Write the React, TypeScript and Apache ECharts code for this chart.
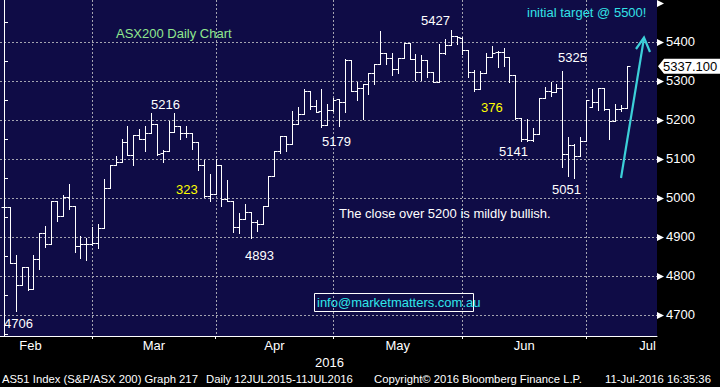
import React, { useEffect, useRef } from 'react';
import * as echarts from 'echarts';

const MONTH_LABELS = ['Feb', 'Mar', 'Apr', 'May', 'Jun', 'Jul'];
const BARS_PER_MONTH = [16, 21, 20, 22, 21, 7];

const OPEN = [
  4977, 4977, 4832, 4776, 4823, 4766, 4843, 4910, 4882, 4993, 4954, 5003, 4979, 4877, 4882, 4882,
  4884, 4923, 5024, 5083, 5091, 5144, 5109, 5160, 5151, 5167, 5188, 5115, 5120, 5170, 5185, 5167, 5167, 5144, 5085, 5006, 5010,
  5085, 4996, 4993, 4926, 4946, 4963, 4939, 4933, 4978, 5057, 5120, 5159, 5138, 5190, 5215, 5275, 5235, 5222, 5187, 5226,
  5254, 5245, 5354, 5273, 5281, 5292, 5320, 5344, 5372, 5359, 5331, 5359, 5397, 5355, 5322, 5352, 5322, 5298, 5372, 5391, 5414, 5409,
  5379, 5322, 5279, 5320, 5362, 5374, 5374, 5362, 5314, 5205, 5151, 5147, 5164, 5256, 5275, 5271, 5281, 5113, 5136, 5106, 5145,
  5234, 5245, 5282, 5228, 5197, 5228, 5231,
];
const HIGH = [
  4982, 4977, 4853, 4823, 4823, 4853, 4910, 4929, 4993, 4993, 5008, 5036, 4979, 4902, 4897, 4926,
  4933, 5049, 5083, 5106, 5151, 5183, 5160, 5177, 5183, 5217, 5188, 5123, 5197, 5218, 5185, 5183, 5167, 5144, 5098, 5060, 5100,
  5085, 5047, 4993, 4961, 4984, 4963, 4944, 4978, 5057, 5120, 5159, 5159, 5222, 5234, 5279, 5275, 5250, 5279, 5241, 5256,
  5254, 5356, 5354, 5296, 5292, 5320, 5344, 5427, 5372, 5372, 5359, 5397, 5397, 5369, 5367, 5352, 5322, 5395, 5408, 5429, 5416, 5412,
  5379, 5328, 5326, 5371, 5389, 5376, 5385, 5362, 5314, 5205, 5202, 5179, 5256, 5283, 5297, 5291, 5326, 5157, 5138, 5157, 5250,
  5280, 5282, 5282, 5228, 5241, 5237, 5339,
];
const LOW = [
  4927, 4832, 4709, 4776, 4764, 4766, 4817, 4873, 4882, 4941, 4954, 4972, 4862, 4847, 4840, 4880,
  4871, 4923, 5024, 5083, 5091, 5109, 5085, 5151, 5120, 5167, 5111, 5091, 5120, 5170, 5151, 5157, 5126, 5072, 5002, 4993, 5010,
  4979, 4993, 4912, 4909, 4946, 4896, 4914, 4933, 4978, 5057, 5115, 5119, 5138, 5190, 5215, 5228, 5221, 5181, 5187, 5222,
  5185, 5221, 5273, 5252, 5201, 5267, 5292, 5344, 5344, 5314, 5320, 5359, 5355, 5302, 5302, 5309, 5298, 5298, 5368, 5391, 5395, 5369,
  5309, 5274, 5279, 5320, 5362, 5336, 5338, 5296, 5202, 5146, 5146, 5145, 5164, 5256, 5261, 5271, 5079, 5055, 5051, 5106, 5145,
  5234, 5226, 5225, 5151, 5197, 5222, 5231,
];
const CLOSE = [
  4977, 4832, 4776, 4823, 4766, 4843, 4910, 4882, 4993, 4954, 5003, 4979, 4877, 4882, 4882, 4884,
  4923, 5024, 5083, 5091, 5144, 5109, 5160, 5151, 5167, 5188, 5113, 5121, 5170, 5185, 5167, 5167, 5144, 5085, 5006, 5010, 5085,
  4996, 4993, 4926, 4946, 4963, 4939, 4933, 4978, 5057, 5120, 5159, 5138, 5190, 5215, 5275, 5235, 5221, 5187, 5226, 5250,
  5245, 5354, 5273, 5281, 5292, 5320, 5344, 5372, 5359, 5331, 5359, 5397, 5355, 5322, 5352, 5322, 5298, 5372, 5391, 5414, 5412, 5379,
  5322, 5279, 5320, 5362, 5372, 5374, 5362, 5314, 5205, 5151, 5147, 5164, 5256, 5275, 5271, 5281, 5113, 5136, 5106, 5145, 5250,
  5245, 5282, 5228, 5197, 5228, 5231, 5337,
];

const Y_LABELS = [4700, 4800, 4900, 5000, 5100, 5200, 5300, 5400];
const Y_MAJOR_MARKS = [4700, 4800, 4900, 5000, 5100, 5200, 5300, 5400, 5500];
const Y_MINOR = [4650, 4750, 4850, 4950, 5050, 5150, 5250, 5350, 5450];
const LAST_PRICE = 5337.1;

const FONT = '"Liberation Sans", Arial, sans-serif';
const X_MIN = -0.68;
const X_MAX = 111.1;
const Y_MIN = 4646;
const Y_MAX = 5507;

export default function App() {
  const ref = useRef<HTMLDivElement>(null);

  useEffect(() => {
    if (!ref.current) return;
    const chart = echarts.init(ref.current, undefined, { renderer: 'svg', width: 720, height: 387 });

    const monthEnds: number[] = [];
    let acc = 0;
    BARS_PER_MONTH.forEach((n) => {
      acc += n;
      monthEnds.push(acc - 1);
    });
    const boundaries = monthEnds.slice(0, monthEnds.length - 1);
    const centers = MONTH_LABELS.map((_, i) => {
      const start = i === 0 ? monthEnds[0] - 21 : monthEnds[i - 1];
      const end = i === MONTH_LABELS.length - 1 ? monthEnds[i - 1] + 21 : monthEnds[i];
      return (start + end) / 2;
    });

    const data = OPEN.map((o, i) => [i, o, HIGH[i], LOW[i], CLOSE[i]]);

    const textEl = (text: string, x: number, y: number, fill: string, size = 13, align = 'left') => ({
      type: 'text',
      x,
      y,
      z: 50,
      silent: true,
      style: {
        text,
        fill,
        font: `${size}px ${FONT}`,
        textAlign: align,
        textVerticalAlign: 'middle',
      },
    });

    const annotations: any[] = [
      textEl('ASX200 Daily Chart', 116, 33, '#8fe88f'),
      textEl('5216', 151, 104, '#ffffff'),
      textEl('5179', 322, 141, '#ffffff'),
      textEl('323', 176, 189, '#ffff00'),
      textEl('4893', 245, 255, '#ffffff'),
      textEl('4706', 4, 323, '#ffffff'),
      textEl('5427', 421, 20, '#ffffff'),
      textEl('376', 481, 107, '#ffff00'),
      textEl('5141', 499, 151, '#ffffff'),
      textEl('5325', 558, 57, '#ffffff'),
      textEl('5051', 552, 189, '#ffffff'),
      textEl('initial target @ 5500!', 527, 12, '#33e2e6'),
      textEl('The close over 5200 is mildly bullish.', 339, 213, '#ffffff'),
      {
        type: 'rect',
        z: 49,
        silent: true,
        shape: { x: 314.5, y: 293.5, width: 159, height: 18 },
        style: { fill: 'none', stroke: '#ffffff', lineWidth: 1 },
      },
      textEl('info@marketmatters.com.au', 317, 302.5, '#2fe6ea'),
      textEl('2016', 315, 362, '#ffffff'),
      textEl('AS51 Index (S&P/ASX 200) Graph 217', 2, 379, '#ffffff', 11.3),
      textEl('Daily 12JUL2015-11JUL2016', 206, 379, '#ffffff', 11.3),
      textEl('Copyright\u00A9 2016 Bloomberg Finance L.P.', 374, 379, '#ffffff', 11.3),
      textEl('11-Jul-2016 16:35:36', 605, 379, '#ffffff', 11.3),
      {
        type: 'line',
        z: 50,
        silent: true,
        shape: { x1: 621, y1: 178, x2: 644, y2: 38 },
        style: { stroke: '#3ccfd8', lineWidth: 2.2 },
      },
      {
        type: 'polyline',
        z: 50,
        silent: true,
        shape: { points: [[636, 49], [644, 37.5], [650, 52]] },
        style: { stroke: '#3ccfd8', lineWidth: 2.2, fill: 'none' },
      },
    ];

    const DASH = 2;
    const PERIOD = 4;
    const gridColor = '#a4a4b0';

    const gridChildren = (api: any) => {
      const children: any[] = [];
      const st = { stroke: gridColor, lineWidth: 1 };
      const l = api.coord([X_MIN, Y_MIN])[0];
      const r = api.coord([X_MAX, Y_MIN])[0];
      const b = api.coord([X_MIN, Y_MIN])[1];
      const t = api.coord([X_MIN, Y_MAX])[1];
      Y_LABELS.forEach((v) => {
        const y = Math.round(api.coord([X_MIN, v])[1]) + 0.5;
        for (let x = l; x < r; x += PERIOD) {
          children.push({ type: 'line', shape: { x1: x, y1: y, x2: Math.min(x + DASH, r), y2: y }, style: st });
        }
      });
      boundaries.forEach((v) => {
        const x = Math.round(api.coord([v, Y_MIN])[0]) + 0.5;
        for (let y = t; y < b; y += PERIOD) {
          children.push({ type: 'line', shape: { x1: x, y1: y, x2: x, y2: Math.min(y + DASH, b) }, style: st });
        }
      });
      return children;
    };

    const option: any = {
      animation: false,
      backgroundColor: '#000000',
      grid: {
        left: 0,
        top: 0,
        right: 63,
        bottom: 51,
        show: true,
        backgroundColor: '#0f0c46',
        borderWidth: 0,
      },
      xAxis: {
        type: 'value',
        min: X_MIN,
        max: X_MAX,
        z: 10,
        axisLine: { show: true, lineStyle: { color: '#ffffff', width: 1 } },
        axisTick: {
          show: true,
          customValues: boundaries,
          length: 3,
          lineStyle: { color: '#ffffff' },
        },
        axisLabel: {
          show: true,
          customValues: centers,
          margin: 3,
          color: '#ffffff',
          fontSize: 13,
          fontFamily: FONT,
          formatter: (v: number) => {
            let best = 0;
            let d = Infinity;
            centers.forEach((c, i) => {
              if (Math.abs(c - v) < d) {
                d = Math.abs(c - v);
                best = i;
              }
            });
            return MONTH_LABELS[best];
          },
        },
        splitLine: { show: false },
      },
      yAxis: {
        type: 'value',
        position: 'right',
        min: Y_MIN,
        max: Y_MAX,
        z: 10,
        axisLine: { show: true, lineStyle: { color: '#ffffff', width: 1 } },
        axisTick: {
          show: true,
          customValues: Y_MINOR,
          length: 4,
          lineStyle: { color: '#ffffff' },
        },
        axisLabel: {
          show: true,
          customValues: Y_LABELS,
          margin: 9,
          color: '#ffffff',
          fontSize: 13,
          fontFamily: FONT,
          formatter: (v: number) => String(Math.round(v)),
        },
        splitLine: { show: false },
      },
      series: [
        {
          type: 'custom',
          z: 5,
          clip: false,
          data,
          encode: { x: 0, y: [1, 2, 3, 4] },
          renderItem: (params: any, api: any) => {
            const idx = api.value(0);
            const x = Math.round(api.coord([idx, api.value(1)])[0]) + 0.5;
            const py = (v: number) => Math.round(api.coord([idx, v])[1]) + 0.5;
            const yO = py(api.value(1));
            const yH = py(api.value(2));
            let yL = py(api.value(3));
            const yC = py(api.value(4));
            if (yL - yH < 1) yL = yH + 1;
            const st = { stroke: '#ffffff', lineWidth: 1 };
            const bar = [
              { type: 'line', shape: { x1: x, y1: yH - 0.5, x2: x, y2: yL + 0.5 }, style: st },
              { type: 'line', shape: { x1: x - 3, y1: yO, x2: x, y2: yO }, style: st },
              { type: 'line', shape: { x1: x, y1: yC, x2: x + 3, y2: yC }, style: st },
            ];
            const children = params.dataIndex === 0 ? [...gridChildren(api), ...bar] : bar;
            return { type: 'group', children };
          },
        },
      ],
    };

    chart.setOption(option);

    const px = (v: number) => chart.convertToPixel({ xAxisIndex: 0 }, v) as number;
    const py = (v: number) => chart.convertToPixel({ yAxisIndex: 0 }, v) as number;
    const right = px(X_MAX);

    const tri = Y_MAJOR_MARKS.map((v) => {
      const y = Math.round(py(v)) + 0.5;
      return {
        type: 'polygon',
        z: 60,
        silent: true,
        shape: { points: [[right, y - 3.5], [right + 7, y], [right, y + 3.5]] },
        style: { fill: '#ffffff' },
      };
    });
    const yLast = py(LAST_PRICE);
    const tag = [
      {
        type: 'polygon',
        z: 61,
        silent: true,
        shape: {
          points: [
            [right + 1, yLast],
            [right + 7, yLast - 7.5],
            [720, yLast - 7.5],
            [720, yLast + 7.5],
            [right + 7, yLast + 7.5],
          ],
        },
        style: { fill: '#ffffff' },
      },
      {
        type: 'text',
        z: 62,
        silent: true,
        x: 663,
        y: yLast,
        style: {
          text: LAST_PRICE.toFixed(3),
          fill: '#000000',
          font: `13px ${FONT}`,
          textAlign: 'left',
          textVerticalAlign: 'middle',
        },
      },
    ];
    chart.setOption({ graphic: [...annotations, ...tri, ...tag] });

    return () => {
      chart.dispose();
    };
  }, []);

  return (
    <div
      ref={ref}
      style={{ position: 'fixed', left: 0, top: 0, width: 720, height: 387, background: '#000' }}
    />
  );
}
